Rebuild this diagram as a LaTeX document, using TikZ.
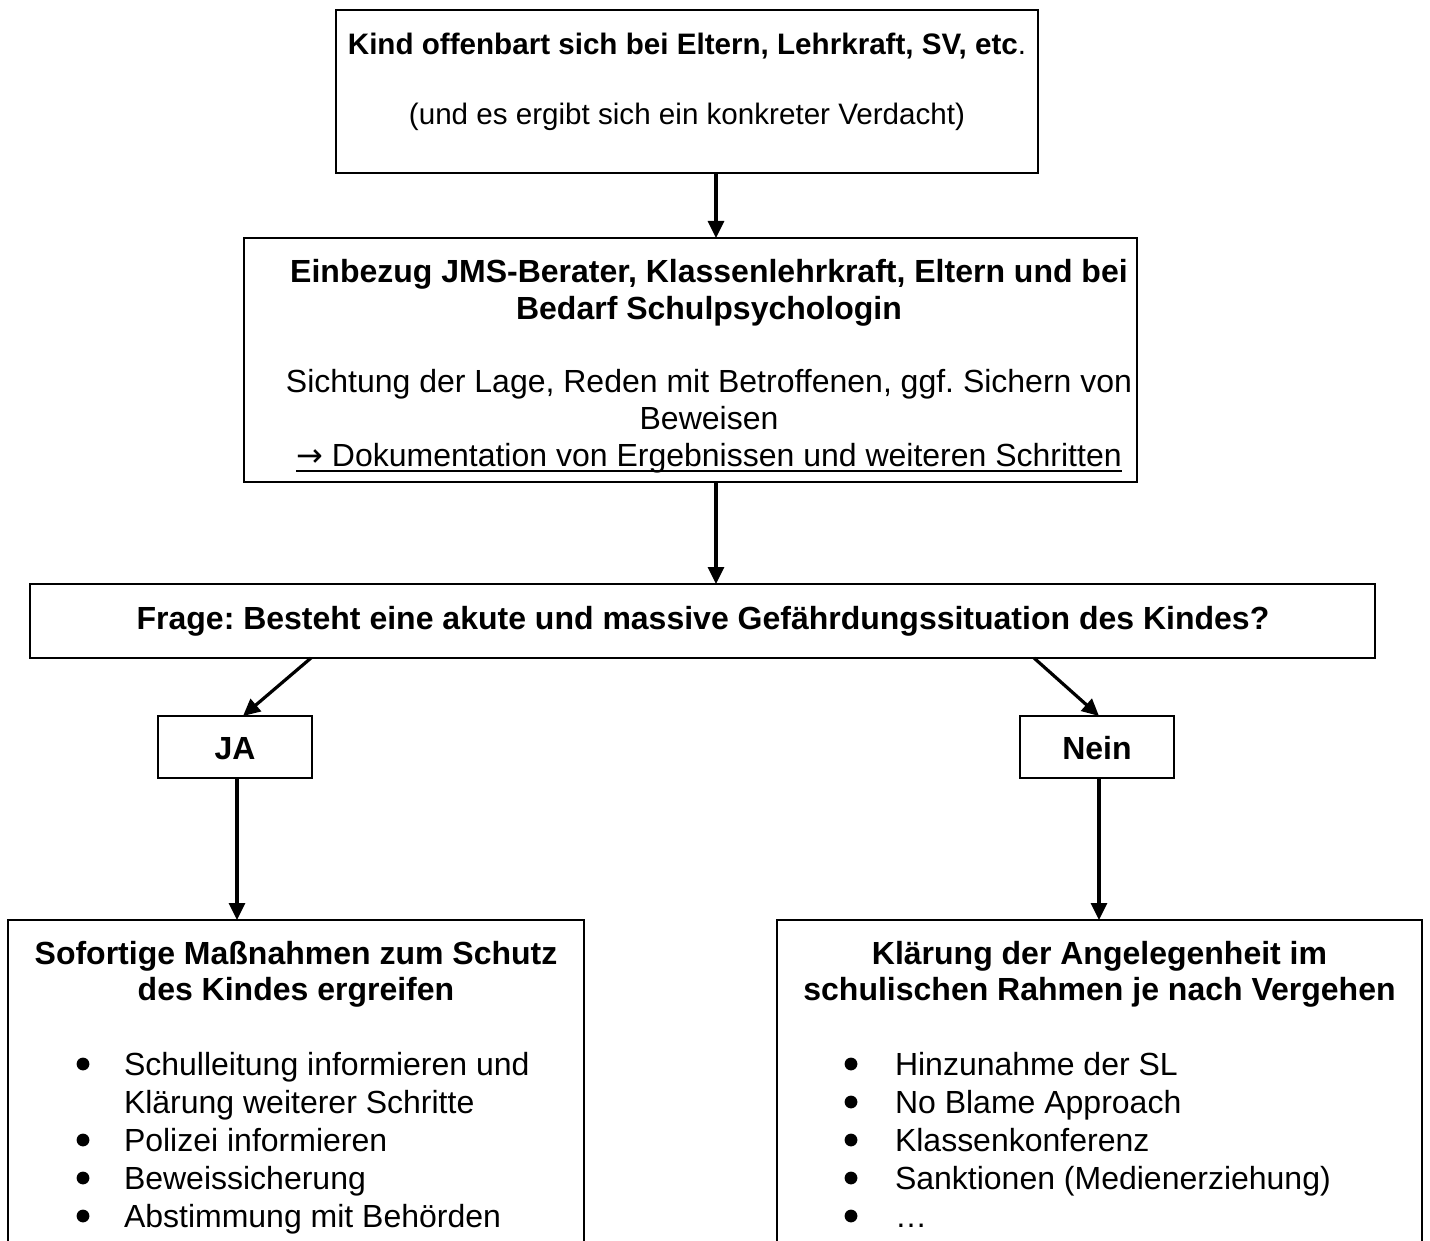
\documentclass[tikz,border=0pt]{standalone}
\usepackage{fontspec}
\setmainfont{Liberation Sans}
\newfontfamily\dejavu{DejaVu Sans}
\usetikzlibrary{arrows.meta,calc}
\tikzset{
  box/.style={draw=black, line width=0.6pt, inner sep=0pt, outer sep=0pt, anchor=north west},
  arr/.style={line width=1.6pt, -{Triangle[length=8.5pt,width=8pt]}},
  txt/.style={inner sep=0pt, outer sep=0pt, anchor=base, font=\fontsize{16}{18.4}\selectfont},
  lst/.style={inner sep=0pt, outer sep=0pt, anchor=base west, font=\fontsize{16}{19}\selectfont},
  dot/.style={fill=black},
}
\newcommand\myul[1]{\setbox0\hbox{#1}\rlap{\rule[-2.9pt]{\wd0}{1.1pt}}\box0}
\frenchspacing
\begin{document}
\begin{tikzpicture}[x=0.5pt,y=-0.5pt]
\clip (0,0) rectangle (1430,1241);
\fill[white] (0,0) rectangle (1430,1241);
% boxes
\node[box, minimum width=351pt, minimum height=81.5pt] (b1) at (336,10) {};
\node[box, minimum width=446.5pt, minimum height=122pt] (b2) at (244,238) {};
\node[box, minimum width=672.5pt, minimum height=37pt] (b3) at (30,584) {};
\node[box, minimum width=77pt, minimum height=31pt] (ja) at (158,716) {};
\node[box, minimum width=77pt, minimum height=31pt] (nein) at (1020,716) {};
\node[box, minimum width=288pt, minimum height=175pt] (bl) at (8,920) {};
\node[box, minimum width=322.5pt, minimum height=175pt] (br) at (777,920) {};
% texts
\node[txt, font=\fontsize{14.8}{17}\selectfont] (t1) at (687,55) {\begin{tabular}[t]{@{}c@{}}\textbf{Kind offenbart sich bei Eltern, Lehrkraft, SV, etc}.\\[18pt]
(und es ergibt sich ein konkreter Verdacht)\end{tabular}};
\node[txt] (t2) at (709,283) {\begin{tabular}[t]{@{}c@{}}\textbf{Einbezug JMS-Berater, Klassenlehrkraft, Eltern und bei}\\
\textbf{Bedarf Schulpsychologin}\\[18pt]
Sichtung der Lage, Reden mit Betroffenen, ggf. Sichern von\\
Beweisen\\
\myul{{\dejavu →} Dokumentation von Ergebnissen und weiteren Schritten}\end{tabular}};
\node[txt] (t3) at (703,629) {\textbf{Frage: Besteht eine akute und massive Gefährdungssituation des Kindes?}};
\node[txt] (tja) at (235,759) {\textbf{JA}};
\node[txt] (tnein) at (1097,759) {\textbf{Nein}};
\node[txt] (tl) at (296,964) {\begin{tabular}[t]{@{}c@{}}\textbf{Sofortige Maßnahmen zum Schutz}\\[-0.4pt]
\textbf{des Kindes ergreifen}\end{tabular}};
\node[txt] (tr) at (1099.5,964) {\begin{tabular}[t]{@{}c@{}}\textbf{Klärung der Angelegenheit im}\\[-0.4pt]
\textbf{schulischen Rahmen je nach Vergehen}\end{tabular}};
\node[lst] (ll) at (124,1075) {\begin{tabular}[t]{@{}l@{}}
Schulleitung informieren und\\
Klärung weiterer Schritte\\
Polizei informieren\\
Beweissicherung\\
Abstimmung mit Behörden
\end{tabular}};
\node[lst] (lr) at (895,1075) {\begin{tabular}[t]{@{}l@{}}
Hinzunahme der SL\\
No Blame Approach\\
Klassenkonferenz\\
Sanktionen (Medienerziehung)\\
…
\end{tabular}};
% bullets
\foreach \yy in {1075,1151,1189,1227} \fill[dot] (83,\yy-11) circle (3.2pt);
\foreach \yy in {1075,1113,1151,1189,1227} \fill[dot] (851,\yy-11) circle (3.2pt);
% connectors
\draw[arr] ($(b1.south)+(29,0)$) -- ($(b2.north)+(25.5,0)$);
\draw[arr] ($(b2.south)+(25.5,0)$) -- ($(b3.north)+(13.5,0)$);
\draw[arr] ($(b3.south)+(-391.5,0)$) -- ($(ja.north)+(8,0)$);
\draw[arr] ($(b3.south)+(331.5,0)$) -- ($(nein.north)+(2,0)$);
\draw[arr] ($(ja.south)+(2,0)$) -- ($(bl.north)+(-59,0)$);
\draw[arr] ($(nein.south)+(2,0)$) -- ($(br.north)+(-0.5,0)$);
\end{tikzpicture}
\end{document}
